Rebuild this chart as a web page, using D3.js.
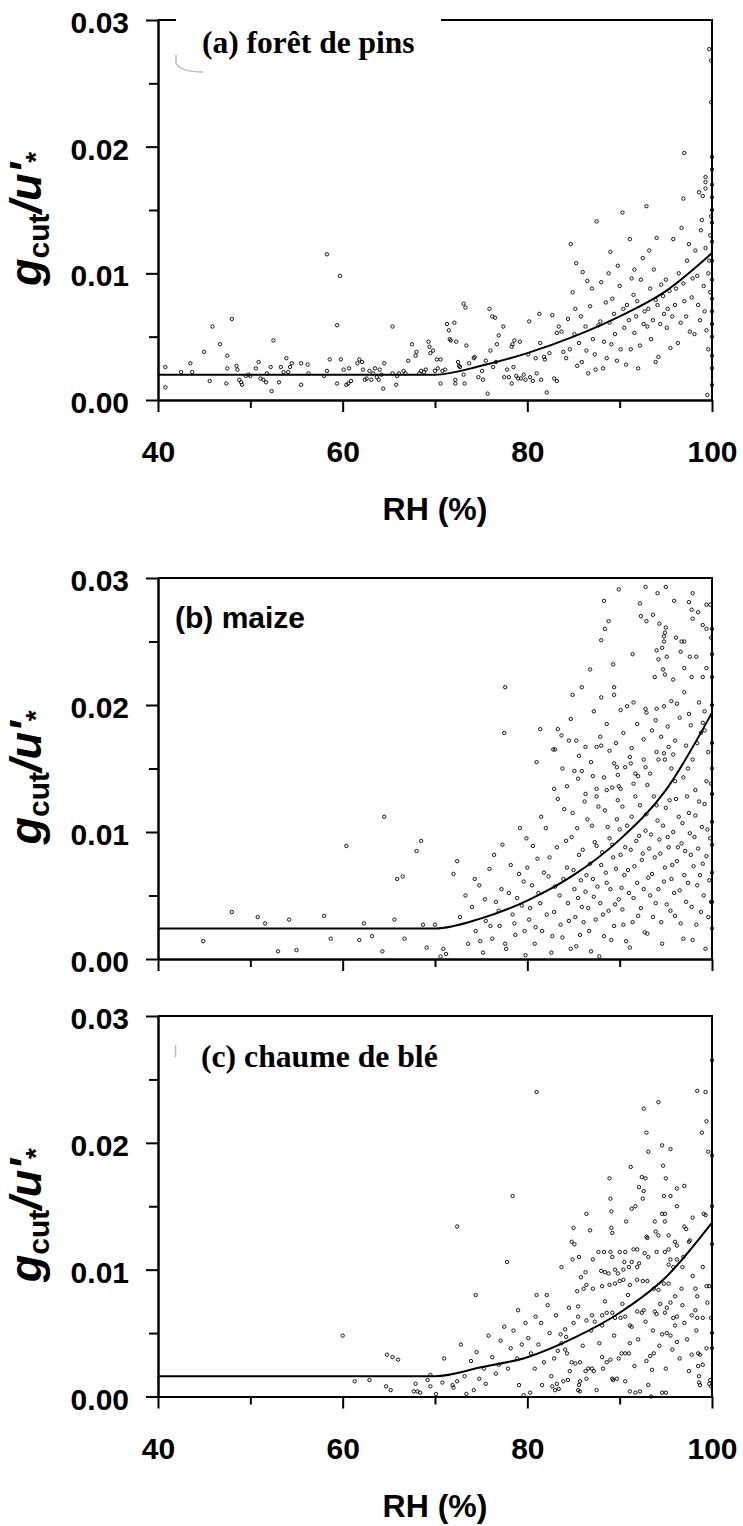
<!DOCTYPE html>
<html>
<head>
<meta charset="utf-8">
<script src="https://d3js.org/d3.v7.min.js"></script>
<style>
  body { margin: 0; background: #fff; }
  svg { display: block; }
  .axis path, .axis line { stroke: #000; stroke-width: 2px; }
  .axis text { font-family: "Liberation Sans", Arial, sans-serif; font-weight: bold; font-size: 30px; fill: #000; }
  .dot { fill: none; stroke: #000; stroke-width: 0.9px; }
  .fit { fill: none; stroke: #000; stroke-width: 2px; }
</style>
</head>
<body>
<script>
    // ticks
    let xTicks = [40, 60, 80, 100];
    let xMinor = [50, 70, 90];
    let yTicks = [0, 0.01, 0.02, 0.03];
    let yMinor = [0.005, 0.015, 0.025];

    // (a) pine forest: [RH, gcut/u*]
    let pinePoints = [
        [40.8,.0026],[40.8,.0010],[42.5,.0022],[43.5,.0029],[43.7,.0022],[45.0,.0038],[45.9,.0058],[45.6,.0015],[46.7,.0044],[47.4,.0013],
        [47.5,.0035],[47.5,.0025],[48.0,.0064],[48.5,.0027],[48.6,.0024],[48.8,.0016],[49.0,.0014],[49.1,.0012],[49.5,.0019],[49.8,.0020],
        [50.0,.0019],[50.6,.0025],[50.9,.0030],[51.1,.0017],[51.4,.0016],[51.7,.0014],[51.8,.0021],[52.2,.0026],[52.3,.0007],[52.5,.0047],
        [53.1,.0014],[53.3,.0026],[53.6,.0022],[53.9,.0033],[54.1,.0022],[54.3,.0026],[54.5,.0029],[55.5,.0029],[56.2,.0028],[55.5,.0012],
        [56.3,.0021],[58.0,.0019],[58.3,.0023],[58.6,.0032],[59.4,.0059],[59.4,.0013],[59.8,.0032],[60.1,.0024],[60.4,.0012],[60.6,.0013],
        [60.7,.0025],[60.9,.0015],[61.6,.0029],[61.8,.0032],[62.1,.0030],[62.2,.0024],[62.4,.0016],[62.6,.0017],[62.9,.0023],[63.1,.0016],
        [63.3,.0021],[63.5,.0025],[63.7,.0018],[63.9,.0016],[64.0,.0024],[64.2,.0020],[64.4,.0009],[64.5,.0029],[65.4,.0058],[65.8,.0012],
        [65.4,.0021],[65.9,.0019],[66.1,.0021],[66.6,.0023],[66.8,.0021],[67.1,.0031],[67.5,.0044],[67.9,.0035],[68.0,.0038],[68.3,.0021],
        [68.5,.0023],[68.8,.0022],[69.0,.0024],[69.3,.0046],[69.4,.0042],[69.5,.0037],[69.8,.0039],[70.0,.0023],[70.2,.0032],[70.3,.0025],
        [70.6,.0032],[70.8,.0023],[71.1,.0024],[70.6,.0013],[71.3,.0060],[71.5,.0055],[71.6,.0048],[71.7,.0047],[72.1,.0061],[72.2,.0016],
        [72.2,.0013],[72.3,.0046],[72.5,.0030],[72.6,.0027],[72.7,.0026],[58.3,.0115],[59.7,.0098],
        [73.1,.0076],[73.3,.0073],[73.4,.0043],[73.1,.0020],[73.2,.0013],[73.7,.0029],[74.2,.0033],[74.3,.0034],[74.7,.0018],[75.1,.0023],
        [75.2,.0016],[75.5,.0031],[75.7,.0005],[75.9,.0072],[76.0,.0039],[76.2,.0066],[76.5,.0065],[76.3,.0026],[76.6,.0030],[76.7,.0044],
        [76.9,.0051],[77.4,.0058],[77.5,.0018],[77.8,.0024],[78.0,.0018],[78.3,.0042],[78.3,.0013],[78.4,.0044],[78.5,.0026],[78.6,.0047],
        [78.8,.0019],[79.0,.0017],[79.2,.0046],[79.3,.0017],[79.6,.0020],[79.8,.0016],[80.2,.0062],[80.1,.0036],[80.3,.0018],[80.6,.0015],
        [80.9,.0033],[81.0,.0021],[81.3,.0068],[81.4,.0045],[81.5,.0016],[81.8,.0034],[81.9,.0032],[82.1,.0006],[82.4,.0037],[82.7,.0067],
        [82.9,.0017],[83.2,.0015],[83.2,.0053],[83.4,.0058],[83.7,.0054],[83.9,.0038],[84.2,.0033],[84.4,.0064],
        [84.7,.0123],[85.2,.0072],[85.6,.0045],[85.9,.0030],[86.3,.0058],[86.6,.0021],[87.0,.0088],[87.3,.0036],[87.5,.0141],[87.9,.0062],
        [88.2,.0025],[88.5,.0077],[88.8,.0100],[89.1,.0044],[89.4,.0068],[89.7,.0031],[90.0,.0090],[90.3,.0148],[90.5,.0057],[90.8,.0075],
        [91.1,.0127],[91.2,.0040],[91.5,.0083],[91.8,.0066],[92.0,.0025],[92.3,.0095],[92.6,.0060],[92.9,.0153],[93.1,.0072],[93.4,.0048],
        [93.7,.0103],[93.9,.0079],[94.2,.0034],[94.5,.0091],[94.8,.0068],[95.1,.0057],[95.4,.0086],[95.8,.0127],[96.0,.0075],[96.3,.0045],
        [96.7,.0136],[96.9,.0092],[97.2,.0066],[97.5,.0123],[97.8,.0081],[98.1,.0052],[98.4,.0098],[98.8,.0134],[99.0,.0161],[99.2,.0070],
        [99.5,.0004],[99.7,.0110],[99.8,.0085],[99.9,.0145],[100,.0125],[100,.0095],[100,.0060],[100,.0035],[100,.0012],[99.6,.0040],
        [99.7,.0277],[99.9,.0268],[99.9,.0235],[97.0,.0195],[100,.0192],[99.3,.0176],[99.3,.0172],[99.3,.0167],[98.6,.0164],[96.9,.0159],[100,.0160],
        [84.6,.0040],[84.9,.0085],[85.1,.0052],[85.4,.0027],[85.8,.0066],[86.0,.0101],[86.4,.0039],[86.8,.0074],[87.1,.0048],[87.4,.0024],
        [87.7,.0059],[88.0,.0093],[88.3,.0046],[88.6,.0033],[88.9,.0061],[89.2,.0080],[89.5,.0052],[89.8,.0106],[90.1,.0040],[90.4,.0072],
        [90.7,.0028],[91.0,.0063],[91.3,.0096],[91.6,.0053],[91.9,.0078],[92.2,.0043],[92.5,.0112],[92.7,.0070],[93.0,.0058],[93.3,.0088],
        [93.6,.0063],[93.9,.0030],[94.1,.0075],[94.4,.0060],[94.7,.0082],[95.0,.0095],[95.2,.0072],[95.5,.0041],[95.7,.0066],[96.1,.0088],
        [96.4,.0100],[96.6,.0061],[97.0,.0078],[97.3,.0110],[97.6,.0054],[97.9,.0096],[98.2,.0118],[98.5,.0075],[98.7,.0063],[98.9,.0142],
        [99.1,.0090],[99.3,.0120],[99.4,.0055],[99.6,.0100],[99.8,.0130],[100,.0150],[100,.0140],[100,.0110],[100,.0080],[100,.0070],
        [100,.0050],[100,.0025],[100,.0170],[100,.0182],[91.6,.0103],[93.2,.0118],[94.0,.0128],[89.0,.0117],[86.5,.0094],[85.3,.0108]
    ];
    let pineFit = [[40,.0020],[70,.0020],[75,.0027],[80,.0037],[85,.0050],[90,.0066],[95,.0086],[100,.0116]];

    // (b) maize
    let maizePoints = [
        [44.9,.0014],[48.0,.0037],[50.8,.0033],[51.6,.0028],[54.2,.0031],[53.0,.0006],[55.0,.0007],[58.0,.0034],[58.7,.0016],[60.4,.0089],
        [61.8,.0015],[62.3,.0028],[63.2,.0018],[64.3,.0006],[64.5,.0112],[65.6,.0031],[65.9,.0063],[66.5,.0065],[66.7,.0016],[68.0,.0085],
        [68.5,.0093],[68.7,.0027],[69.1,.0009],[70.0,.0027],[70.6,.0002],[70.9,.0008],[71.2,.0004],[72.0,.0067],[72.4,.0077],[72.7,.0033],[73.3,.0050],
        [73.6,.0012],[74.0,.0041],[74.4,.0022],[74.8,.0058],[75.2,.0005],[75.5,.0030],[75.9,.0071],[76.2,.0016],[76.6,.0045],
        [77.0,.0026],[77.3,.0090],[77.7,.0008],[78.0,.0052],[78.4,.0035],[78.7,.0019],[79.1,.0067],[79.4,.0042],[79.8,.0003],[79.9,.0095],
        [80.2,.0031],[80.5,.0058],[80.8,.0012],[81.1,.0079],[81.4,.0044],[81.6,.0022],[82.0,.0103],[82.3,.0065],[82.6,.0005],[82.9,.0037],
        [83.2,.0088],[83.5,.0050],[83.8,.0017],[84.0,.0118],[84.3,.0072],[84.5,.0030],[84.8,.0096],[85.1,.0055],[85.3,.0010],[85.6,.0082],
        [85.9,.0041],[86.2,.0124],[86.4,.0066],[86.7,.0022],[87.0,.0105],[87.2,.0049],[87.5,.0089],[87.8,.0002],[88.0,.0074],[88.2,.0035],
        [88.4,.0117],[88.6,.0060],[88.9,.0095],[89.1,.0015],[89.3,.0080],[89.5,.0043],[89.8,.0125],[90.0,.0102],[90.2,.0056],[90.4,.0027],
        [90.6,.0088],[90.9,.0070],[91.1,.0009],[91.3,.0112],[91.5,.0048],[91.8,.0093],[92.0,.0034],[92.2,.0121],[92.4,.0078],[92.6,.0055],
        [92.8,.0101],[93.0,.0020],[93.2,.0087],[93.5,.0067],[93.7,.0128],[93.9,.0044],[94.1,.0109],[94.4,.0083],[94.6,.0012],[94.8,.0061],
        [95.0,.0119],[95.2,.0096],[95.5,.0038],[95.7,.0074],[95.9,.0052],[96.1,.0126],[96.3,.0088],[96.6,.0028],[96.8,.0107],[97.0,.0066],
        [97.2,.0045],[97.5,.0115],[97.7,.0082],[97.9,.0015],[98.1,.0096],[98.4,.0058],[98.6,.0124],[98.8,.0037],[99.0,.0075],[99.3,.0008],
        [99.5,.0102],[99.7,.0062],[99.9,.0045],[100,.0130],[100,.0090],[100,.0024],
        [89.9,.0291],[92.8,.0293],[94.1,.0288],[95.0,.0293],[97.9,.0288],[88.3,.0282],[92.2,.0280],[95.9,.0282],[97.5,.0281],[97.8,.0275],
        [98.5,.0273],[99.4,.0279],[99.8,.0279],[97.9,.0268],[88.8,.0266],[88.4,.0260],[88.0,.0251],[92.3,.0270],[92.9,.0266],[93.6,.0271],
        [94.3,.0264],[95.0,.0261],[99.0,.0263],[99.4,.0260],[99.9,.0253],[94.9,.0257],[94.8,.0254],[94.8,.0250],[96.1,.0253],[96.7,.0250],
        [97.0,.0250],[91.4,.0240],[94.0,.0243],[94.6,.0245],[94.2,.0236],[95.1,.0238],[96.6,.0242],[97.6,.0238],[98.3,.0238],[89.3,.0232],
        [86.8,.0228],[97.0,.0229],[99.4,.0229],[94.7,.0228],[94.9,.0224],[95.8,.0220],[93.8,.0222],[97.8,.0222],[99.0,.0222],[100,.0222],
        [84.9,.0208],[85.9,.0214],[88.0,.0206],[89.4,.0214],[89.4,.0208],[77.6,.0214],[77.5,.0178],
        [90.1,.0196],[90.8,.0199],[91.5,.0202],[92.8,.0197],[92.9,.0194],[94.0,.0197],[94.8,.0199],[95.6,.0203],[96.2,.0201],[97.0,.0210],
        [97.5,.0193],[98.6,.0202],[99.2,.0195],[87.2,.0195],[84.7,.0189],[81.0,.0155],[81.4,.0181],[83.3,.0181],[83.7,.0176],[84.5,.0172],
        [85.3,.0172],[82.8,.0165],[83.0,.0165],[86.3,.0167],[87.5,.0167],[88.0,.0168],[88.9,.0164],[85.1,.0148],[85.9,.0148],[85.5,.0142],
        [84.3,.0136],[82.9,.0134],[87.1,.0144],[87.5,.0134],[88.3,.0143],[89.4,.0154],[89.7,.0151],[90.1,.0134],[90.6,.0151],[91.2,.0154],
        [91.1,.0159],[91.7,.0146],[92.0,.0144],[92.6,.0157],[92.8,.0151],[93.3,.0146],[94.0,.0163],[94.2,.0157],[94.8,.0162],[94.9,.0157],
        [95.3,.0167],[95.6,.0150],[95.8,.0161],[96.9,.0143],[97.9,.0157],[98.8,.0178],[99.2,.0180],[99.9,.0138],[98.2,.0133],[99.4,.0140],
        [86.3,.0130],[87.5,.0128],[88.6,.0133],[89.2,.0135],[89.9,.0136],
        [74.3,.0063],[74.9,.0014],[75.4,.0047],[76.0,.0026],[76.4,.0082],[76.9,.0038],[77.2,.0055],[77.6,.0012],[78.2,.0074],[78.6,.0028],
        [78.9,.0048],[79.2,.0103],[79.6,.0061],[79.7,.0022],[80.0,.0072],[80.3,.0040],[80.6,.0089],[80.9,.0025],[81.2,.0052],[81.5,.0112],
        [81.8,.0068],[82.1,.0035],[82.4,.0080],[82.7,.0018],[83.0,.0057],[83.3,.0126],[83.6,.0027],[83.9,.0063],[84.2,.0093],[84.4,.0044],
        [84.7,.0008],[84.9,.0115],[85.0,.0070],[85.2,.0033],[85.4,.0103],[85.5,.0048],[85.7,.0019],[85.8,.0062],[86.0,.0086],[86.1,.0029],
        [86.3,.0053],[86.5,.0110],[86.6,.0040],[86.8,.0075],[86.9,.0006],[87.1,.0063],[87.3,.0092],[87.4,.0031],[87.6,.0057],[87.7,.0120],
        [87.9,.0044],[88.1,.0084],[88.3,.0018],[88.5,.0068],[88.7,.0104],[88.8,.0038],[89.0,.0055],[89.2,.0090],[89.4,.0026],[89.6,.0071],
        [89.7,.0110],[89.9,.0047],[90.1,.0082],[90.3,.0120],[90.3,.0039],[90.5,.0066],[90.7,.0014],[90.8,.0105],[91.0,.0052],[91.2,.0086],
        [91.4,.0029],[91.6,.0073],[91.7,.0128],[91.9,.0060],[92.1,.0097],[92.3,.0040],[92.5,.0083],[92.7,.0021],[92.9,.0114],[93.1,.0064],
        [93.3,.0050],[93.4,.0098],[93.6,.0033],[93.8,.0080],[94.0,.0121],[94.2,.0055],[94.3,.0094],[94.5,.0029],[94.7,.0105],[94.9,.0072],
        [95.1,.0043],[95.3,.0088],[95.4,.0125],[95.6,.0063],[95.8,.0100],[96.0,.0034],[96.2,.0077],[96.4,.0112],[96.5,.0054],[96.7,.0091],
        [96.9,.0016],[97.1,.0085],[97.3,.0128],[97.4,.0060],[97.6,.0099],[97.8,.0041],[98.0,.0073],[98.2,.0113],[98.3,.0027],[98.5,.0087],
        [98.7,.0066],[98.9,.0104],[99.1,.0050],[99.2,.0122],[99.4,.0081],[99.6,.0033],[99.8,.0095],[100,.0108],[100,.0068],[100,.0045],
        [100,.0150],[100,.0170],[100,.0200],[100,.0240],[100,.0260],
        [83.8,.0150],[85.6,.0160],[86.9,.0155],[87.9,.0175],[88.6,.0185],[89.6,.0170],[90.4,.0178],[91.3,.0166],[91.9,.0185],[92.6,.0173],
        [93.5,.0180],[93.9,.0188],[94.5,.0175],[95.2,.0183],[96.0,.0172],[96.5,.0190],[97.2,.0168],[97.7,.0184],[98.4,.0170],[99.0,.0186],
        [99.6,.0163],[89.8,.0145],[91.5,.0138],[93.0,.0137],[96.0,.0140],[97.4,.0150]
    ];
    let maizeFit = [[40,.0024],[70,.0024],[75,.0032],[80,.0046],[85,.0066],[90,.0094],[95,.0133],[100,.0194]];

    // (c) wheat stubble
    let stubblePoints = [
        [60.0,.0048],[61.3,.0012],[62.9,.0013],[64.7,.0008],[65.2,.0005],[67.9,.0010],[67.7,.0004],[68.1,.0004],[68.4,.0003],[69.5,.0008],
        [70.1,.0002],[70.8,.0011],[71.9,.0009],[72.0,.0007],[72.4,.0012],[73.4,.0002],[74.2,.0005],[75.5,.0010],[79.1,.0009],[79.6,.0001],
        [80.3,.0003],[81.6,.0009],[82.7,.0008],[83.0,.0005],[83.2,.0010],[83.4,.0006],[83.9,.0012],[84.4,.0013],[85.6,.0009],[85.7,.0004],
        [64.8,.0033],[65.4,.0031],[66.0,.0029],[69.2,.0013],[69.5,.0017],[71.0,.0030],[72.8,.0041],[74.5,.0035],[75.8,.0048],[76.9,.0025],
        [77.5,.0055],[78.2,.0038],[79.0,.0068],[80.1,.0046],[80.8,.0022],[81.5,.0058],[82.2,.0072],[82.9,.0030],
        [81.0,.0240],[92.6,.0227],[94.2,.0232],[98.4,.0241],[99.3,.0240],[99.4,.0217],[98.9,.0208],[99.6,.0193],[100,.0190],[92.9,.0208],
        [93.1,.0193],[94.6,.0198],[95.5,.0195],[78.4,.0158],[72.4,.0134],[77.8,.0106],[74.4,.0080],[81.0,.0080],[82.1,.0080],[91.2,.0181],
        [88.9,.0172],[92.4,.0173],[92.8,.0172],[94.7,.0182],[95.0,.0172],[92.1,.0165],[92.6,.0162],[96.2,.0164],[97.0,.0166],[89.0,.0156],
        [92.5,.0156],[94.8,.0158],[95.5,.0158],[86.4,.0144],[89.1,.0146],[91.3,.0148],[91.7,.0150],[96.2,.0150],[99.1,.0144],[99.3,.0143],
        [85.0,.0133],[86.8,.0131],[89.1,.0133],[89.2,.0129],[90.7,.0138],[93.8,.0138],[94.9,.0138],[94.6,.0144],[94.9,.0144],[92.9,.0126],
        [93.0,.0125],[93.9,.0130],[94.2,.0127],[95.3,.0127],[96.0,.0122],[96.2,.0119],[97.0,.0134],[97.2,.0132],[97.9,.0141],[97.5,.0122],
        [97.6,.0123],[84.8,.0122],[85.1,.0120],[84.9,.0108],[85.6,.0110],[87.1,.0108],[87.7,.0114],[88.3,.0114],[89.0,.0114],[89.2,.0110],
        [90.0,.0114],[90.6,.0114],[91.5,.0116],[91.9,.0116],[83.7,.0102],[86.3,.0098],[85.8,.0094],[88.0,.0099],[88.4,.0098],[88.8,.0097],
        [89.5,.0100],[89.8,.0097],[90.4,.0100],[90.5,.0106],[91.0,.0102],[91.3,.0106],[91.9,.0102],[92.1,.0105],[92.7,.0113],[93.1,.0110],
        [94.0,.0114],[94.9,.0114],[95.3,.0116],[95.5,.0108],[95.3,.0104],[95.8,.0102],[96.2,.0108],[96.9,.0110],[96.8,.0102],[99.0,.0102],
        [99.4,.0087],[99.7,.0087],[85.4,.0083],[86.1,.0085],[86.4,.0088],[87.1,.0085],[88.1,.0087],[88.9,.0088],[89.5,.0089],[90.0,.0091],
        [90.4,.0092],[91.1,.0088],[91.9,.0092],[92.5,.0091],[93.0,.0091],[93.7,.0085],[94.2,.0084],[94.8,.0089],[95.3,.0089],[96.0,.0079],
        [96.7,.0085],[98.2,.0085],[98.4,.0079],
        [84.5,.0070],[85.5,.0071],[83.6,.0049],[84.2,.0047],[84.1,.0053],[85.0,.0058],[85.5,.0063],[86.4,.0060],[87.0,.0064],[87.3,.0059],
        [88.1,.0064],[88.1,.0056],[88.6,.0066],[89.2,.0066],[89.5,.0062],[90.1,.0062],[90.6,.0063],[91.1,.0056],[91.3,.0055],[91.9,.0067],
        [92.6,.0068],[92.4,.0066],[92.8,.0059],[93.8,.0067],[94.0,.0065],[94.4,.0073],[95.1,.0070],[94.9,.0066],[95.5,.0074],[95.8,.0062],
        [96.0,.0056],[96.2,.0063],[97.0,.0058],[97.8,.0064],[98.2,.0068],[98.4,.0062],[99.0,.0062],[99.9,.0062],
        [83.7,.0042],[84.1,.0037],[84.3,.0034],[84.8,.0027],[85.2,.0026],[85.7,.0027],[86.3,.0020],[86.6,.0022],[87.0,.0022],[87.2,.0020],
        [86.4,.0014],[85.7,.0012],[85.5,.0005],[87.5,.0005],[88.1,.0031],[88.2,.0022],[88.6,.0027],[89.0,.0029],[89.2,.0014],[89.3,.0013],
        [89.7,.0014],[89.9,.0030],[90.2,.0034],[90.6,.0034],[91.0,.0034],[91.1,.0042],[90.6,.0012],[91.1,.0004],[91.7,.0003],[92.2,.0004],
        [93.1,.0009],[93.5,.0021],[93.3,.0032],[93.7,.0034],[94.6,.0049],[95.1,.0050],[95.5,.0048],[96.2,.0043],[95.7,.0037],[95.0,.0022],
        [94.6,.0003],[95.0,.0003],[97.5,.0020],[97.8,.0033],[98.5,.0034],[98.7,.0033],[98.5,.0024],[98.6,.0016],[98.7,.0009],[99.8,.0013],
        [99.7,.0010],[93.4,.0000],[99.4,.0038],[100,.0038],[98.6,.0011],[99.9,.0008],
        [73.2,.0016],[73.9,.0028],[74.8,.0014],[75.3,.0022],[76.2,.0031],[76.6,.0018],[77.1,.0044],[77.9,.0022],[78.5,.0052],[78.9,.0030],
        [79.4,.0041],[79.8,.0058],[80.4,.0034],[80.9,.0063],[81.2,.0041],[81.8,.0027],[82.4,.0050],[82.6,.0016],[83.1,.0064],[83.3,.0036],
        [84.6,.0020],[86.0,.0040],[86.9,.0052],[87.8,.0042],[88.4,.0075],[89.4,.0048],[90.3,.0073],[90.9,.0080],[91.6,.0024],[92.0,.0045],
        [92.9,.0028],[93.6,.0052],[94.3,.0040],[96.5,.0030],[96.8,.0072],[97.3,.0045],[97.9,.0095],[98.3,.0052],[99.0,.0025],[99.5,.0074],
        [100,.0050],[100,.0120],[100,.0150],[100,.0265]
    ];
    let stubbleFit = [[40,.0016],[70,.0016],[75,.0023],[80,.0031],[85,.0046],[90,.0066],[95,.0094],[100,.0137]];

    let panels = [
        { top: 20, bottom: 400, points: pinePoints, fit: pineFit, xLabels: true,
          label: "(a) forêt de pins", font: "'Liberation Serif', 'Times New Roman', serif", size: 31.5, lx: 202, ly: 53,
          box: [176, 14, 265, 58], smudge: "M176,55 L176,63 Q180,72 203,72" },
        { top: 578, bottom: 959, points: maizePoints, fit: maizeFit, xLabels: false,
          label: "(b) maize", font: "'Liberation Sans', Arial, sans-serif", size: 30, lx: 175, ly: 628 },
        { top: 1016, bottom: 1396.5, points: stubblePoints, fit: stubbleFit, xLabels: true,
          label: "(c) chaume de blé", font: "'Liberation Serif', 'Times New Roman', serif", size: 31.7, lx: 201, ly: 1067,
          smudge: "M175.5,1045 L175.5,1057" }
    ];

    let svg = d3.select("body").append("svg")
        .attr("width", 743)
        .attr("height", 1526);

    svg.append("rect").attr("width", 743).attr("height", 1526).attr("fill", "#fff");

    let x = d3.scaleLinear().domain([40, 100]).range([158, 712]);

    panels.forEach(function(p) {
        let y = d3.scaleLinear().domain([0, 0.03]).range([p.bottom, p.top]);
        let g = svg.append("g");

        // frame: top and right
        g.append("line").attr("x1", 158).attr("x2", 712).attr("y1", p.top).attr("y2", p.top)
            .attr("stroke", "#000").attr("stroke-width", 2);
        g.append("line").attr("x1", 712).attr("x2", 712).attr("y1", p.top - 1).attr("y2", p.bottom)
            .attr("stroke", "#000").attr("stroke-width", 2);

        // fitted curve
        let line = d3.line()
            .x(function(d) { return x(d[0]); })
            .y(function(d) { return y(d[1]); })
            .curve(d3.curveMonotoneX);
        g.append("path").datum(p.fit).attr("class", "fit").attr("d", line);

        // data points
        g.selectAll(".dot")
            .data(p.points)
            .enter().append("circle")
            .attr("class", "dot")
            .attr("cx", function(d) { return x(d[0]); })
            .attr("cy", function(d) { return y(d[1]); })
            .attr("r", 1.7);

        // left axis
        g.append("g").attr("class", "axis").attr("transform", "translate(158,0)")
            .call(d3.axisLeft(y).tickValues(yMinor).tickSize(9).tickSizeOuter(0).tickFormat(""));
        let ya = g.append("g").attr("class", "axis").attr("transform", "translate(158,0)")
            .call(d3.axisLeft(y).tickValues(yTicks).tickSize(12).tickSizeOuter(0).tickPadding(17).tickFormat(d3.format(".2f")));
        ya.selectAll("text").attr("dy", "0.42em");

        // bottom axis
        g.append("g").attr("class", "axis").attr("transform", "translate(0," + p.bottom + ")")
            .call(d3.axisBottom(x).tickValues(xMinor).tickSize(8).tickSizeOuter(0).tickFormat(""));
        let xa = g.append("g").attr("class", "axis").attr("transform", "translate(0," + p.bottom + ")")
            .call(d3.axisBottom(x).tickValues(xTicks).tickSize(12).tickSizeOuter(0).tickPadding(29));
        if (!p.xLabels) xa.selectAll("text").remove();

        // panel label
        if (p.box) {
            g.append("rect").attr("x", p.box[0]).attr("y", p.box[1]).attr("width", p.box[2]).attr("height", p.box[3])
                .attr("fill", "#fff");
        }
        if (p.smudge) {
            g.append("path").attr("d", p.smudge).attr("fill", "none").attr("stroke", "#bbb").attr("stroke-width", 1.5);
        }
        g.append("text")
            .attr("x", p.lx).attr("y", p.ly)
            .style("font-family", p.font).style("font-weight", "bold").style("font-size", p.size + "px")
            .text(p.label);

        // y axis title
        let cy = (p.top + p.bottom) / 2;
        let t = g.append("text")
            .attr("transform", "translate(41," + (cy + 9) + ") rotate(-90)")
            .attr("text-anchor", "middle")
            .style("font-family", "'Liberation Sans', Arial, sans-serif")
            .style("font-weight", "bold")
            .style("font-size", "45px");
        t.append("tspan").style("font-style", "italic").text("g");
        t.append("tspan").style("font-size", "30px").attr("dy", 8).text("cut");
        t.append("tspan").style("font-style", "italic").attr("dy", -8).text("/u'");
        t.append("tspan").style("font-size", "28px").attr("dy", 4).text("*");

        // x axis title
        if (p.xLabels) {
            g.append("text")
                .attr("x", 435).attr("y", p.bottom + 120)
                .attr("text-anchor", "middle")
                .style("font-family", "'Liberation Sans', Arial, sans-serif")
                .style("font-weight", "bold")
                .style("font-size", "32px")
                .text("RH (%)");
        }
    });
</script>
</body>
</html>
